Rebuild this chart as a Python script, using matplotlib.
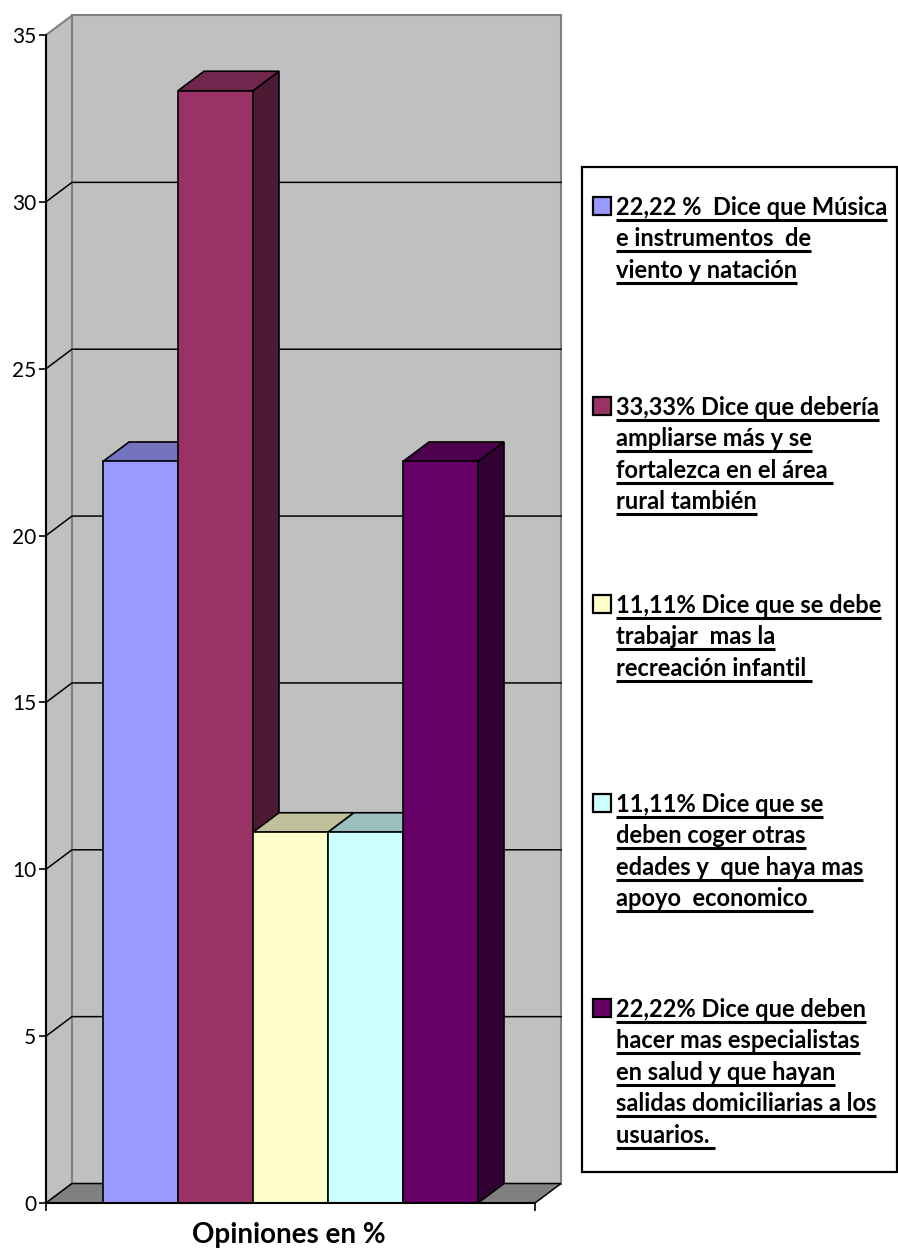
import numpy as np
import matplotlib
matplotlib.use("Agg")
import matplotlib.pyplot as plt
from matplotlib.patches import Polygon, Rectangle
from matplotlib.colors import to_rgb
from matplotlib.lines import Line2D
from matplotlib.transforms import IdentityTransform

# Datos de la grafica
valores = [22.22, 33.33, 11.11, 11.11, 22.22]
colores = ['#9999FF', '#993366', '#FFFFCC', '#CCFFFF', '#660066']
etiquetas = [
    ["22,22 %  Dice que Música", "e instrumentos  de", "viento y natación"],
    ["33,33% Dice que debería", "ampliarse más y se", "fortalezca en el área ", "rural también"],
    ["11,11% Dice que se debe", "trabajar  mas la", "recreación infantil "],
    ["11,11% Dice que se", "deben coger otras", "edades y  que haya mas", "apoyo  economico "],
    ["22,22% Dice que deben", "hacer mas especialistas", "en salud y que hayan",
     "salidas domiciliarias a los", "usuarios. "],
]
yticks = [0, 5, 10, 15, 20, 25, 30, 35]
xlabel = "Opiniones en %"

plt.rcParams['font.family'] = ['Lato', 'DejaVu Sans']

W_PX, H_PX = 898, 1256
fig = plt.figure(figsize=(W_PX / 100, H_PX / 100), dpi=100)

# Ejes en el plano frontal
ax = fig.add_axes([46 / W_PX, 53 / H_PX, 489 / W_PX, 1168 / H_PX])
gap = 0.76
W = len(valores) + 2 * gap
ymax = yticks[-1]
ax.set_xlim(0, W)
ax.set_ylim(0, ymax)
ax.patch.set_visible(False)

# profundidad (efecto 3D)
dx = 26 / (489 / W)
dy = 19.5 / (1168 / ymax)

def poly(pts, fc, ec='black', lw=1.2, z=1):
    ax.add_patch(Polygon(pts, closed=True, facecolor=fc, edgecolor=ec,
                         linewidth=lw, clip_on=False, zorder=z, joinstyle='miter'))

def sombra(c, f):
    r, g, b = to_rgb(c)
    return (r * f, g * f, b * f)

# Paredes y piso
poly([(0, 0), (dx, dy), (dx, ymax + dy), (0, ymax)], '#C0C0C0', ec='#808080', lw=1.5, z=0.1)
poly([(dx, dy), (W + dx, dy), (W + dx, ymax + dy), (dx, ymax + dy)], '#C0C0C0',
     ec='#808080', lw=1.5, z=0.1)
for v in yticks[1:-1]:
    ax.plot([0, dx, W + dx], [v, v + dy, v + dy], color='black', lw=1.1,
            clip_on=False, zorder=0.3)
poly([(0, 0), (W, 0), (W + dx, dy), (dx, dy)], '#808080', ec='black', lw=1.1, z=0.5)

# Barras 3D
for i, (v, c) in enumerate(zip(valores, colores)):
    x0 = gap + i
    x1 = x0 + 1
    z = 1 + i * 0.1
    poly([(x1, 0), (x1 + dx, dy), (x1 + dx, v + dy), (x1, v)], sombra(c, 0.5), z=z)
    poly([(x0, v), (x1, v), (x1 + dx, v + dy), (x0 + dx, v + dy)], sombra(c, 0.75), z=z + 0.01)
    ax.add_patch(Rectangle((x0, 0), 1, v, facecolor=c, edgecolor='black', lw=1.2,
                           clip_on=False, zorder=z + 0.02))

for s in ['top', 'right']:
    ax.spines[s].set_visible(False)
for s in ['left', 'bottom']:
    ax.spines[s].set_linewidth(1.5)
    ax.spines[s].set_zorder(3)
ax.set_yticks(yticks)
ax.set_yticklabels([str(t) for t in yticks])
ax.tick_params(axis='y', direction='out', length=5, width=1.2, labelsize=15, pad=2)
ax.set_xticks([0, W])
ax.set_xticklabels(['', ''])
ax.tick_params(axis='x', direction='out', length=6, width=1.2)

def px(x, y):
    return (x / W_PX, 1 - y / H_PX)

fig.text(*px(289, 1235), xlabel, fontsize=20, fontweight='bold', ha='center', va='center')

# Leyenda
x0, y0 = px(582, 1172)
x1, y1 = px(897, 167)
fig.add_artist(Rectangle((x0, y0), x1 - x0, y1 - y0, transform=fig.transFigure,
                         facecolor='white', edgecolor='black', lw=1.6, zorder=0.5))

bases = [215, 415, 613, 812, 1017]
paso = 31.4
textos = []
for base, lineas, c in zip(bases, etiquetas, colores):
    sx, sy = px(593, base)
    fig.add_artist(Rectangle((sx, sy), 18 / W_PX, 18 / H_PX, transform=fig.transFigure,
                             facecolor=c, edgecolor='black', lw=1.6, zorder=2))
    for k, linea in enumerate(lineas):
        t = fig.text(*px(616, base + k * paso), linea, fontsize=17, fontweight='bold',
                     ha='left', va='baseline', zorder=2)
        textos.append(t)

fig.canvas.draw()
r = fig.canvas.get_renderer()
for t in textos:
    bb = t.get_window_extent(r)
    ybase = t.get_transform().transform(t.get_position())[1]
    fig.add_artist(Line2D([bb.x0, bb.x1], [ybase - 5, ybase - 5], color='black', lw=2.2,
                          transform=IdentityTransform(), solid_capstyle='butt'))

fig.savefig('out.png', dpi=100)
